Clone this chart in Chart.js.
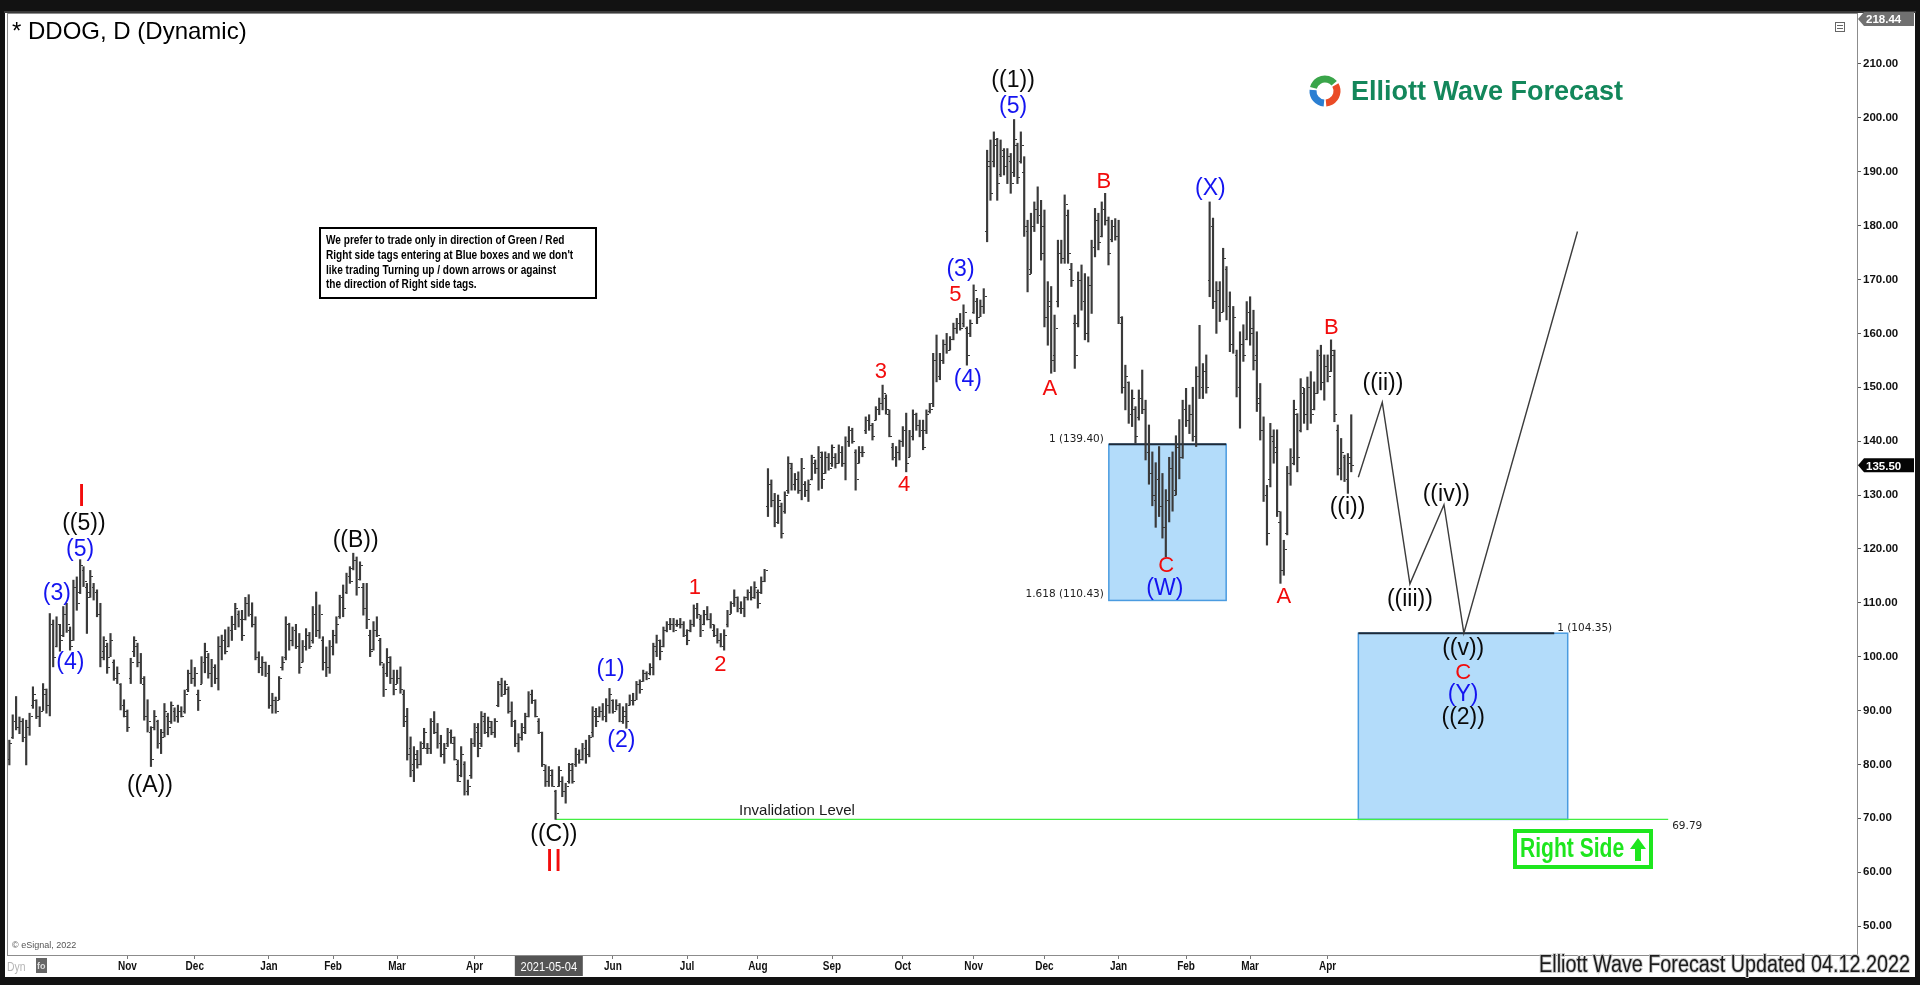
<!DOCTYPE html>
<html lang="en">
<head>
<meta charset="UTF-8">
<title>DDOG Daily - Elliott Wave</title>
<script src="https://cdn.jsdelivr.net/npm/chart.js"></script>
<style>
  html, body { margin: 0; padding: 0; background: #111; overflow: hidden; }
  #wrap { width: 1920px; height: 985px; }
</style>
</head>
<body>
<div id="wrap"><canvas id="chart" width="1920" height="985"></canvas></div>
<script>
// daily bars, index 0 = mid Sep 2020, last = 12 Apr 2022
const opens = [
  81,85,88,87,88,85,87,91,92,89, 90,93,91,106,102,106,104,108,105,103,
  113,112,116,113,112,113,112,108,101,102, 100,99,96,95,91,89,96,101,102,99,
  95,89,86,87,88,84,86,89,88,90, 89,90,90,94,97,96,93,95,99,100,
  97,98,96,102,103,102,105,106,108,107, 107,110,108,106,100,98,99,97,91,92,
  92,98,100,106,103,105,102,99,102,104, 103,108,105,103,99,98,102,104,107.5,111,
  112,115,116.5,118,114.5,113,109,104,101.5,105, 103,98,97,99,96,95,96,93,89,83,
  79,81,80,84,83,83,88,86,84,82, 84,86,84,80,78,80,75,78,84,86,
  84,88,86,87,86,91,95,93,94,90, 88,84,85,86,89,93,92,88,86,79,
  77,78,75,76,77,75,77,79,80,82, 81,83,82,86,89,89,90,89,91,92,
  90,91,88,89,91,92,92,95,95.5,97, 97,98,101,103,102,105,106,106,106,106,
  106,104,105,106,109,107,106,108,107,105, 104,103,102,106,108,110,111,109,109,111,
  112,111,112,112,114,128,132,129,125,128, 127,131,135,132,133,131,132,131,133,136,
  135,137,134,137,136,137,136,138,136,140, 142,138,136,138,142,144,143,144,146,147,
  148,145,139,137,138,140,142,137,141,145, 143,142,142,145.5,147,155,152,155,158,157,
  159,161,162,162,161,160,164,166,163,165, 179,191,192,195,189.5,193,191,192,190,195,
  192,190,179,172,180,183,182,180,163,165, 156,166,175,174,182,172,162,162,170,166,
  160,169,176,181,178,183,181,177.5,180,178, 162,150,151,145,146,144.5,148,146,138,134,
  129,133,128,124,129,135,131,139,137,146, 144,145,141,152,150,153,170,180,166,168,
  164,172,165,158,156,150,158,159,164,161, 156,148,142,130,133,140,139,125,116,123,
  134,137,145,142,149,145,150,146,149,156, 151,154,153,156,142,135,137,133,137
];
const highs = [
  84.5,89.2,92.6,88.8,88.5,88.2,89.5,94.4,92,90.7, 95,94,108,106.8,107.4,106,109.3,109.9,105.5,114.2,
  114.8,118,116.7,113.6,116,113.6,112.4,109.9,103.7,102.5, 104.3,99.4,98.1,95,92,90.1,99.7,103.7,102.5,100.6,
  96.3,92,87,90,88.2,86.5,91.3,89.5,91.6,90.5, 91,90.7,93.8,97.5,99.4,98,93.8,100,102.5,100.6,
  99.5,98.5,103.7,104,105,105.5,107.5,109.9,108.5,108.6, 111,111.5,110,107.4,100.9,100,99,98.4,93.2,92.5,
  96.3,100,107.4,106.2,105.5,106,104.3,103,105.2,104.5, 109.3,112,109.6,103.7,101.8,103,104.9,107.4,111.4,113.3,
  115.5,116.7,119.2,118.5,117.6,113.6,113.6,104.9,106.5,107.4, 103.4,98.7,101.5,100,97.5,97.5,98.1,93.8,90.4,85.1,
  83.3,82.6,84.2,86.7,83.9,88.5,89.8,87.6,85.4,83.9, 86.7,86.4,85.1,80.8,83.3,80.5,77.1,84.8,87.6,87.6,
  89.8,89.5,88.8,88,88.5,95.4,96,95.5,94.4,91.6, 88.2,85.7,87.6,89.5,93.5,93.8,92,88.5,86,79.9,
  79.6,79,75.2,79.6,77.7,76.5,80.2,80.2,83,82.7, 83.9,84.5,85.4,90.7,90.4,90.7,91.3,92.2,94.1,92,
  92,91.3,90.7,91.3,92.9,93.2,95.4,95.7,97.5,97.2, 98.7,102.5,104,103.1,105.5,106.5,107.1,107.1,106.8,107.1,
  106.5,105,106.8,109.6,109.9,107.7,108.6,109.3,108,105.9, 105.2,104.3,105,108.6,110.2,112.4,111.1,110.2,111.1,112.4,
  113,113.9,112.4,114.8,116.2,134.9,132.8,130.3,130,128.5, 130.6,137.1,135.9,134,134.3,136.8,132.5,132.8,137.4,136.5,
  139,138,138,137.7,139.3,137.7,139.3,139,140.8,142.7, 142.4,138.4,139,139,144.5,144.9,143.3,146.4,148,150.4,
  148.6,145.8,139.6,139,140.2,142.7,145.2,142,145.8,145.2, 143.9,143.9,145.8,147,156.3,159.7,156.3,158.8,160,159.4,
  161.9,162.8,163.7,165.3,161.2,162.5,169,166.5,166.2,168.3, 194,195.9,197.4,196.2,195.9,194.3,194.3,193.4,199.7,195.3,
  197.4,192.8,181,182.3,184.4,187.2,184.7,182.9,169.6,168.7, 163.4,177.3,177.3,185.7,182.9,173,163.4,171.4,172.7,171.1,
  170.5,177.3,183.2,182.3,184.4,186,181.6,181,181.3,181, 163.1,154.1,151,149.5,146.4,149.5,153.2,147.6,143,138,
  136,139,134,131,137,138,141,144,147.6,149.8, 146.7,150,153.8,161.5,154.4,156,184.4,181.4,169.6,169.6,
  175.8,172.4,167.7,165,156.9,160.3,161.6,165.9,166.8,164.3, 160.3,150.7,144.5,131.8,143.3,142.1,142.1,126.9,121.6,135.3,
  138.6,147.6,145.1,151.6,149.8,151.9,152.9,151,156.9,157.8, 156,156,158.8,156.9,143,140.5,137.4,137.7,144.9
];
const lows = [
  79.9,84.8,86.4,85.7,84.2,79.9,85.4,90.4,88.5,87, 90,89.5,89,98.1,101.8,101,103.7,104.5,101.2,103,
  108.6,111.7,113,104.3,111,110.5,107.4,98.1,99.4,96.9, 100,95.6,95,90.1,88.8,86.1,95,100,98.1,95,
  88.2,86,79.6,86.4,83,82,85.1,85.5,87.6,88, 87.8,88.8,89.5,93.5,95,94.5,90,95,97,96,
  94.4,95,93.8,99.4,100.5,101.8,103,105,105.5,103, 106.8,107.5,105.5,99.4,97,96.5,96.3,90.4,89.5,89.5,
  92,97.5,99.4,101.2,102,101.5,96.9,99,101.2,101.5, 102.5,103.7,103.4,97.5,96.3,96.9,100.3,102.5,107.1,107.4,
  111.7,113.6,116.1,111.4,114.2,107.7,105.2,100,101.2,103.7, 98.4,92.6,96.3,95,92.9,95,93.2,87,80.8,77.7,
  76.8,79.3,79.9,83,82,82,85.7,83,81.4,80.2, 83.3,83.9,80.8,76.8,77.7,74.3,74.3,77.4,83.3,81.4,
  83.3,85.7,85.1,85.5,85,90.7,92.6,93,89.5,87, 83.3,82.3,84.5,85.7,88.8,91.3,88.8,85.7,79.6,75.9,
  75.9,75.9,69.79,75.9,74,72.8,76.5,76.5,79.6,80.2, 80.8,80.2,81.4,85.1,87,88.8,88.2,87.9,89.5,89.5,
  90.1,87.9,87.6,86.7,91,91,92,93.2,95.4,95.7, 96.6,96.6,100,99.4,101.8,104.6,105,104.6,105.6,105.3,
  103.7,102.2,104.6,105.6,107.1,103.7,105.9,106.8,105.3,103.7, 102.5,101.8,101.2,105.5,108,109.3,108.3,108,107.4,110.5,
  110.5,110.8,109,111.7,113.9,126,127.8,124.1,124.7,122, 126.6,130.3,130.9,130.9,130.3,129.1,129.7,128.8,132.8,134,
  130.9,131.2,134,134.6,135.3,135,135.9,135.3,132.8,139, 139.6,130.9,135.9,137.1,141.4,142,140.2,143.9,144.9,145.8,
  145,140.8,136.5,135.3,136.5,139,134.3,137.1,140.2,142, 140.8,138.4,141.4,145.2,146.4,151,151.4,154.4,156.3,156.9,
  158.8,160,160.6,161.2,154.1,159.4,163.7,161.8,163.1,163.7, 177,184.7,190.9,184.7,189.1,189.4,187.8,186,189.1,187.8,
  191.6,178,167.7,171.1,178.9,180.4,173.6,161.2,157.8,152.6, 152.9,164.9,173,173,173,168.7,153.5,161.2,164.3,158.8,
  158.4,163.7,174.2,175.5,177.9,180.1,172.7,177,177.3,161.8, 148.9,145.8,143.3,142.7,139.6,143.9,145.1,136.5,132,128,
  124,126,122,118.5,125,127,130,133,136.8,142.7, 141.4,140,139,147.9,147.9,148.9,166.8,164.6,160,162.2,
  164,162.5,156.6,156.3,148.2,142.4,154.8,158.8,157.8,153.2, 145.5,140.2,128.8,120.7,131.5,135.9,126,113.6,115.1,122.6,
  131.8,135.6,134.3,141.7,143.3,142.1,143.3,145.8,148.9,149.5, 147.6,151,152.9,143.6,133.7,132.8,132.5,130.3,134.3
];
const closes = [
  84,88,87,88,85,87,89,93,89,90, 94,91,106,100,106,103,108,106,102,113,
  110,117,114,111,115,112,108,100,103,98, 103,96,97,91,90,87,99,103,99,96,
  89,88,81,89,84,85,90,87,91,89, 90,89,93,97,96,97,92,99,101,97,
  98,96,102,103,101,105,106,109,107,104, 110,108,106,100,98,99,97,91,92,90,
  96,99,106,103,105,102,98,102,104,102, 108,105,108,99,98,102,104,106,111,109,
  115,114,118,113,117,109,107,101,105,104, 99,94,100,96,94,96,94,88,82,80,
  82,80,83,86,83,88,86,84,82,83, 86,85,81,77,82,75,76,84,87,83,
  89,86,88,86,88,95,93,95,90,88, 84,85,87,89,93,92,89,86,80,77,
  79,76,71,79,75,76,80,77,82,81, 83,82,85,90,88,90,89,91,93,90,
  91,88,90,88,92,92,95,94,97,96, 98,102,103,101,105,106,106,105,106,106,
  104,103,106,109,108,105,108,107,106,104, 103,102,104,108,110,111,109,109,111,112,
  111,113,110,114,116,132,129,125,129,123, 130,136,132,133,131,135,131,132,137,135,
  138,133,137,135,139,136,138,136,140,142, 140,133,138,138,144,143,141,146,147,149,
  146,141,137,138,140,142,136,141,145,143, 142,139,145,146,155,152,155,158,157,159,
  161,162,161,164,156,162,168,163,165,167, 192,186,196,188,194,191,193,188,196,189,
  195,180,171,180,183,182,175,163,166,155, 161,175,174,184,175,170,156,170,166,160,
  169,176,181,177,183,181,175,180,178,163, 150,152,145,148,141,148,146,138,134,130,
  133,128,124,129,135,130,139,137,146,144, 145,141,152,150,153,150,180,166,168,164,
  174,165,158,163,150,158,156,164,160,155, 147,142,130,123,141,138,127,116,120,134,
  136,146,137,150,145,150,145,149,156,151, 154,152,157,145,135,138,133,136,135.5
];

// axis ticks
const monthIdx = [35, 55, 77, 96, 115, 138, 159, 179, 201, 222, 244, 265, 286, 307, 329, 349, 368, 391];
const monthLbl = ['Nov','Dec','Jan','Feb','Mar','Apr','','Jun','Jul','Aug','Sep','Oct','Nov','Dec','Jan','Feb','Mar','Apr'];
const priceTicks = [50, 60, 70, 80, 90, 100, 110, 120, 130, 140, 150, 160, 170, 180, 190, 200, 210];
const topPrice = 218.44;
const lastPrice = 135.50;
const cursorIdx = 160;
const cursorLbl = '2021-05-04';

// projection and levels
const projX = [400.1, 407.2, 415.4, 425.5, 431.4, 465.1];
const projY = [133.3, 147.2, 113.5, 128.2, 104.35, 178.9];
const invalidStart = 162;
const invalidEnd = 492;
const invalidLevel = 69.79;
const box1X = [326.1, 360.9];
const box1Y = [110.43, 139.40];
const box2X = [400.1, 462.2];
const box2Y = [69.79, 104.35];

// wave labels: text, bar index, price, colour key, size
const waves = [
  ['I', 21.4, 129.5, 'r', 31], ['((5))', 22.1, 124.6, 'k', 23], ['(5)', 21.0, 119.9, 'b', 23],
  ['(3)', 14.1, 111.6, 'b', 23], ['(4)', 18.1, 98.9, 'b', 23], ['((A))', 41.7, 76.0, 'k', 23],
  ['((B))', 102.7, 121.6, 'k', 23], ['((C))', 161.5, 66.9, 'k', 23], ['II', 161.5, 61.8, 'r', 31],
  ['(1)', 178.3, 97.6, 'b', 23], ['(2)', 181.5, 84.4, 'b', 23], ['1', 203.3, 112.8, 'r', 22],
  ['2', 210.9, 98.5, 'r', 22], ['3', 258.5, 152.8, 'r', 22], ['4', 265.4, 131.9, 'r', 22],
  ['5', 280.6, 167.1, 'r', 22], ['(3)', 282.1, 171.9, 'b', 23], ['(4)', 284.3, 151.4, 'b', 23],
  ['((1))', 297.7, 206.9, 'k', 23], ['(5)', 297.7, 202.1, 'b', 23], ['A', 308.6, 149.6, 'r', 22],
  ['B', 324.6, 188.2, 'r', 22], ['C', 343.1, 116.9, 'r', 22], ['(W)', 342.7, 112.6, 'b', 23],
  ['(X)', 356.2, 186.9, 'b', 23], ['A', 378.0, 111.0, 'r', 22], ['B', 392.1, 161.0, 'r', 22],
  ['((i))', 396.9, 127.6, 'k', 23], ['((ii))', 407.4, 150.7, 'k', 23], ['((iii))', 415.4, 110.5, 'k', 23],
  ['((iv))', 426.2, 130.1, 'k', 23], ['((v))', 431.2, 101.5, 'k', 23], ['C', 431.2, 97.0, 'r', 22],
  ['(Y)', 431.2, 92.9, 'b', 23], ['((2))', 431.2, 88.6, 'k', 23]
];

const FONT = '"Liberation Sans", Arial, sans-serif';
const colours = { r: '#f20c0c', b: '#1414f0', k: '#0a0a0a' };

function narrow(ctx, text, x, y, sx, align) {
  ctx.save();
  ctx.translate(x, y);
  ctx.scale(sx, 1);
  ctx.textAlign = align || 'left';
  ctx.fillText(text, 0, 0);
  ctx.restore();
}

const frame = {
  id: 'frame',
  beforeDraw(chart) {
    const ctx = chart.ctx;
    ctx.save();
    ctx.fillStyle = '#121212';
    ctx.fillRect(0, 0, 1920, 985);
    ctx.fillStyle = '#3a3a3a';
    ctx.fillRect(4, 11, 1912, 2);
    ctx.fillStyle = '#ffffff';
    ctx.fillRect(5, 13, 1910, 964);
    ctx.restore();
  },
  beforeDatasetsDraw(chart) {
    const { ctx, scales: { x, y } } = chart;
    ctx.save();
    // blue boxes
    [[box1X, box1Y], [box2X, box2Y]].forEach(([bx, by]) => {
      const l = x.getPixelForValue(bx[0]), r = x.getPixelForValue(bx[1]);
      const t = y.getPixelForValue(by[1]), b = y.getPixelForValue(by[0]);
      ctx.fillStyle = '#b3dcfa';
      ctx.fillRect(l, t, r - l, b - t);
      ctx.strokeStyle = '#4a9be0';
      ctx.lineWidth = 1.5;
      ctx.strokeRect(l, t, r - l, b - t);
    });
    // fib lines on box tops
    ctx.strokeStyle = '#1d2a38';
    ctx.lineWidth = 2;
    const t1 = y.getPixelForValue(box1Y[1]);
    ctx.beginPath();
    ctx.moveTo(x.getPixelForValue(box1X[0]), t1);
    ctx.lineTo(x.getPixelForValue(box1X[1]), t1);
    ctx.stroke();
    const t2 = y.getPixelForValue(box2Y[1]);
    ctx.beginPath();
    ctx.moveTo(x.getPixelForValue(box2X[0]), t2);
    ctx.lineTo(x.getPixelForValue(458.2), t2);
    ctx.stroke();
    ctx.restore();
  },
  afterDatasetsDraw(chart) {
    const { ctx, scales: { x, y } } = chart;
    ctx.save();
    ctx.fillStyle = '#3a3a3a';
    for (let i = 0; i < highs.length; i++) {
      const px = Math.round(x.getPixelForValue(i));
      ctx.fillRect(px - 2, Math.round(y.getPixelForValue(opens[i])), 2, 1);
      ctx.fillRect(px + 1, Math.round(y.getPixelForValue(closes[i])), 2, 1);
    }
    ctx.restore();
  },
  afterDraw(chart) {
    const { ctx, chartArea: a, scales: { x, y } } = chart;
    ctx.save();
    // plot frame
    ctx.strokeStyle = '#8c8c8c';
    ctx.lineWidth = 1;
    ctx.strokeRect(a.left - 0.5, a.top - 0.5, a.right - a.left + 1, a.bottom - a.top + 1);

    // wave labels
    ctx.textBaseline = 'middle';
    waves.forEach(([txt, i, p, c, s]) => {
      ctx.fillStyle = colours[c];
      ctx.font = s + 'px ' + FONT;
      ctx.textAlign = 'center';
      ctx.fillText(txt, x.getPixelForValue(i), y.getPixelForValue(p));
    });

    // level labels
    ctx.fillStyle = '#222';
    ctx.font = '10.5px "DejaVu Sans", Verdana, sans-serif';
    ctx.textAlign = 'right';
    ctx.fillText('1 (' + box1Y[1].toFixed(2) + ')', x.getPixelForValue(box1X[0]) - 5, y.getPixelForValue(box1Y[1]) - 5);
    ctx.fillText('1.618 (' + box1Y[0].toFixed(2) + ')', x.getPixelForValue(box1X[0]) - 5, y.getPixelForValue(box1Y[0]) - 6);
    ctx.textAlign = 'left';
    ctx.fillText('1 (' + box2Y[1].toFixed(2) + ')', x.getPixelForValue(458.2) + 3, y.getPixelForValue(box2Y[1]) - 5);
    ctx.fillText(invalidLevel.toFixed(2), x.getPixelForValue(invalidEnd) + 4, y.getPixelForValue(invalidLevel) + 7);
    ctx.font = '15px ' + FONT;
    ctx.textAlign = 'center';
    ctx.fillStyle = '#1a1a1a';
    ctx.fillText('Invalidation Level', 797, y.getPixelForValue(invalidLevel) - 9);

    // title
    ctx.textAlign = 'left';
    ctx.fillStyle = '#000';
    ctx.font = '24px ' + FONT;
    ctx.fillText('* DDOG, D (Dynamic)', 12, 32);

    // note box
    ctx.fillStyle = '#fff';
    ctx.fillRect(320, 228, 276, 70);
    ctx.strokeStyle = '#000';
    ctx.lineWidth = 2;
    ctx.strokeRect(320, 228, 276, 70);
    ctx.fillStyle = '#000';
    ctx.font = 'bold 12px ' + FONT;
    ['We prefer to trade only in direction of Green / Red',
     "Right side tags entering at Blue boxes and we don't",
     'like trading Turning up / down arrows or against',
     'the direction of Right side tags.'].forEach((l, k) => narrow(ctx, l, 326, 241 + k * 14.7, 0.84));

    // logo
    const cx = 1325, cy = 91;
    ctx.lineWidth = 7;
    [['#3aa54a', 195, 320], ['#ea4b26', 330, 445], ['#2b7fd2', 95, 185]].forEach(([col, s, e]) => {
      ctx.strokeStyle = col;
      ctx.beginPath();
      ctx.arc(cx, cy, 12, s * Math.PI / 180, e * Math.PI / 180);
      ctx.stroke();
    });
    ctx.fillStyle = '#13875b';
    ctx.font = 'bold 27px ' + FONT;
    ctx.fillText('Elliott Wave Forecast', 1351, 93);

    // Right Side tag
    ctx.strokeStyle = '#1ee61e';
    ctx.lineWidth = 4;
    ctx.strokeRect(1515, 831, 136, 36);
    ctx.fillStyle = '#1ee61e';
    ctx.font = 'bold 27px ' + FONT;
    narrow(ctx, 'Right Side', 1520, 850, 0.78);
    ctx.beginPath();
    ctx.moveTo(1638, 838); ctx.lineTo(1646, 849); ctx.lineTo(1641, 849); ctx.lineTo(1641, 861);
    ctx.lineTo(1635, 861); ctx.lineTo(1635, 849); ctx.lineTo(1630, 849); ctx.closePath();
    ctx.fill();

    // top-right icon
    ctx.strokeStyle = '#666';
    ctx.lineWidth = 1;
    ctx.strokeRect(1835.5, 22.5, 9, 9);
    ctx.fillStyle = '#666';
    ctx.fillRect(1837, 25, 6, 1); ctx.fillRect(1837, 28, 6, 1);

    // x-axis labels
    ctx.fillStyle = '#111';
    ctx.font = 'bold 12.5px ' + FONT;
    monthIdx.forEach((v, k) => {
      if (monthLbl[k]) narrow(ctx, monthLbl[k], x.getPixelForValue(v), 967, 0.8, 'center');
    });
    const cxp = x.getPixelForValue(cursorIdx);
    ctx.fillStyle = '#555';
    ctx.fillRect(cxp - 34, 956, 68, 20);
    ctx.fillStyle = '#fff';
    ctx.font = '13px ' + FONT;
    narrow(ctx, cursorLbl, cxp, 967, 0.85, 'center');

    // bottom-left bits
    ctx.fillStyle = '#b5b5b5';
    ctx.font = '13px ' + FONT;
    narrow(ctx, 'Dyn', 7, 967, 0.8);
    ctx.fillStyle = '#666';
    ctx.fillRect(36, 958, 11, 15);
    ctx.fillStyle = '#ddd';
    ctx.font = 'bold 9px ' + FONT;
    ctx.fillText('fo', 37, 967);
    ctx.fillStyle = '#555';
    ctx.font = '9px ' + FONT;
    ctx.fillText('\u00a9 eSignal, 2022', 12, 946);

    // footer
    ctx.font = '23px ' + FONT;
    ctx.textAlign = 'right';
    ctx.lineWidth = 2;
    ctx.strokeStyle = '#cfcfcf';
    ctx.save();
    ctx.translate(1910, 966);
    ctx.scale(0.86, 1);
    ctx.strokeText('Elliott Wave Forecast Updated 04.12.2022', 0, 0);
    ctx.fillStyle = '#1c1c1c';
    ctx.fillText('Elliott Wave Forecast Updated 04.12.2022', 0, 0);
    ctx.restore();

    // price flags on right axis
    const flag = (val, bg) => {
      const py = Math.max(19, y.getPixelForValue(val));
      ctx.fillStyle = bg;
      ctx.beginPath();
      ctx.moveTo(1858, py);
      ctx.lineTo(1864, py - 7);
      ctx.lineTo(1914, py - 7);
      ctx.lineTo(1914, py + 7);
      ctx.lineTo(1864, py + 7);
      ctx.closePath();
      ctx.fill();
      ctx.fillStyle = '#fff';
      ctx.font = 'bold 11.5px ' + FONT;
      ctx.textAlign = 'left';
      ctx.fillText(val.toFixed(2), 1866, py + 1);
    };
    flag(topPrice, '#707070');
    flag(lastPrice, '#050505');
    ctx.restore();
  }
};

const bars = highs.map((h, i) => ({ x: i, y: [lows[i], h] }));

new Chart(document.getElementById('chart'), {
  type: 'bar',
  data: {
    datasets: [
      {
        type: 'bar',
        data: bars,
        backgroundColor: '#3a3a3a',
        borderWidth: 0,
        barThickness: 1.5,
        grouped: false
      },
      {
        type: 'line',
        data: projX.map((v, k) => ({ x: v, y: projY[k] })),
        borderColor: '#3c3c3c',
        borderWidth: 1.4,
        pointRadius: 0,
        tension: 0
      },
      {
        type: 'line',
        data: [{ x: invalidStart, y: invalidLevel }, { x: invalidEnd, y: invalidLevel }],
        borderColor: '#42ee42',
        borderWidth: 1.3,
        pointRadius: 0
      }
    ]
  },
  options: {
    responsive: false,
    animation: false,
    events: [],
    layout: { padding: { left: 8, top: 14, right: 5, bottom: 8 } },
    plugins: { legend: { display: false }, tooltip: { enabled: false } },
    scales: {
      x: {
        type: 'linear',
        min: -0.4,
        max: 548,
        offset: false,
        grid: { display: true, drawOnChartArea: false, drawTicks: true, tickLength: 4, color: '#777', offset: false },
        border: { display: true, color: '#8c8c8c' },
        ticks: { display: false },
        afterBuildTicks: s => { s.ticks = monthIdx.map(v => ({ value: v })); },
        afterFit: s => { s.height = 22; }
      },
      y: {
        type: 'linear',
        position: 'right',
        min: 44.62,
        max: 219.28,
        grid: { drawOnChartArea: false, tickLength: 4, color: '#555' },
        border: { display: true, color: '#8c8c8c' },
        ticks: {
          color: '#111',
          padding: 2,
          font: { family: FONT, size: 11.5, weight: 'bold' },
          callback: v => v.toFixed(2)
        },
        afterBuildTicks: s => { s.ticks = priceTicks.map(v => ({ value: v })); },
        afterFit: s => { s.width = 58; }
      }
    }
  },
  plugins: [frame]
});
</script>
</body>
</html>
